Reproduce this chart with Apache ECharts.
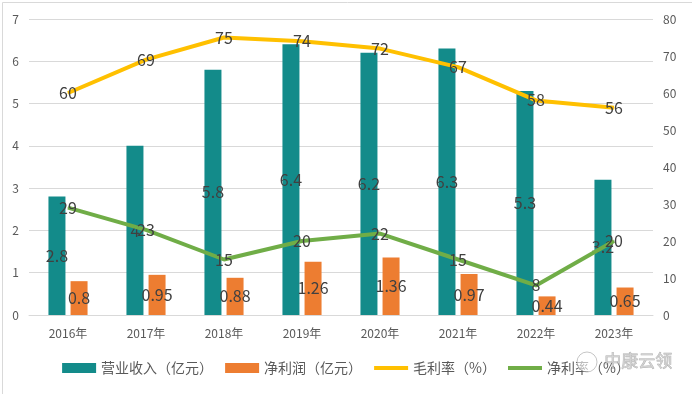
<!DOCTYPE html>
<html>
<head>
<meta charset="utf-8">
<script src="https://cdn.jsdelivr.net/npm/echarts@6/dist/echarts.min.js"></script>
<style>html,body{margin:0;padding:0;background:#fff;}#c{width:692px;height:394px;}</style>
</head>
<body>
<div id="c"></div>
<script>
var categories = ['2016年','2017年','2018年','2019年','2020年','2021年','2022年','2023年'];
var revenue = [2.8, 4, 5.8, 6.4, 6.2, 6.3, 5.3, 3.2];
var netProfit = [0.8, 0.95, 0.88, 1.26, 1.36, 0.97, 0.44, 0.65];
var grossMargin = [60, 69, 75, 74, 72, 67, 58, 56];
var netMargin = [29, 23, 15, 20, 22, 15, 8, 20];
var seriesNames = ['营业收入（亿元）','净利润（亿元）','毛利率（%）','净利率（%）'];

var font = '"Noto Sans CJK SC", "Noto Sans", sans-serif';
var labelStyle = {show: true, position: 'inside', color: '#404040', fontSize: 16, fontFamily: font};
var lineIcon = 'path://M0,0H34V4H0Z';
var chart = echarts.init(document.getElementById('c'), null, {renderer: 'canvas'});
chart.setOption({
  animation: false,
  backgroundColor: '#fff',
  textStyle: {fontFamily: font},
  grid: {left: 29, right: 39, top: 19, bottom: 79, containLabel: false},
  legend: {
    bottom: 14, left: 'center', itemWidth: 34, itemHeight: 10, itemGap: 12,
    textStyle: {color: '#595959', fontSize: 14, fontFamily: font},
    data: [
      {name: seriesNames[0], icon: 'rect'},
      {name: seriesNames[1], icon: 'rect'},
      {name: seriesNames[2], icon: lineIcon},
      {name: seriesNames[3], icon: lineIcon}
    ]
  },
  xAxis: {
    type: 'category', data: categories,
    axisLine: {lineStyle: {color: '#D9D9D9'}}, axisTick: {show: false},
    axisLabel: {color: '#595959', fontSize: 12, margin: 12, fontFamily: font}
  },
  yAxis: [
    {type: 'value', min: 0, max: 7, interval: 1,
     axisLine: {show: false}, axisTick: {show: false},
     axisLabel: {color: '#595959', fontSize: 12, margin: 10},
     splitLine: {lineStyle: {color: '#D9D9D9'}}},
    {type: 'value', min: 0, max: 80, interval: 10, position: 'right',
     axisLine: {show: false}, axisTick: {show: false},
     axisLabel: {color: '#595959', fontSize: 12, margin: 10},
     splitLine: {show: false}}
  ],
  series: [
    {name: seriesNames[0], type: 'bar', data: revenue, barWidth: 17, barGap: '30%',
     itemStyle: {color: '#138B8A'}, label: labelStyle, z: 2},
    {name: seriesNames[1], type: 'bar', data: netProfit, barWidth: 17,
     itemStyle: {color: '#ED7D31'}, label: labelStyle, z: 2},
    {name: seriesNames[2], type: 'line', yAxisIndex: 1, data: grossMargin,
     symbol: 'circle', symbolSize: 1, lineStyle: {color: '#FFC000', width: 4},
     itemStyle: {color: '#FFC000'}, label: labelStyle, z: 3},
    {name: seriesNames[3], type: 'line', yAxisIndex: 1, data: netMargin,
     symbol: 'circle', symbolSize: 1, lineStyle: {color: '#70AD47', width: 4},
     itemStyle: {color: '#70AD47'}, label: labelStyle, z: 3}
  ],
  graphic: [
    {type: 'rect', left: 0, top: 0, shape: {x: 0.5, y: 0.5, width: 690, height: 392},
     style: {fill: 'none', stroke: '#D9D9D9', lineWidth: 1}, silent: true},
    {type: 'circle', shape: {cx: 587, cy: 362, r: 10},
     style: {fill: 'rgba(255,255,255,0.6)', stroke: 'rgba(160,160,160,0.6)', lineWidth: 1}, z: 100},
    {type: 'text', left: 604, top: 352,
     style: {text: '中康云领', fill: 'rgba(200,200,200,0.7)', stroke: 'rgba(120,120,120,0.6)', lineWidth: 0.6,
             font: '17px "Noto Sans CJK SC", sans-serif'}, z: 100}
  ]
});
</script>
</body>
</html>
